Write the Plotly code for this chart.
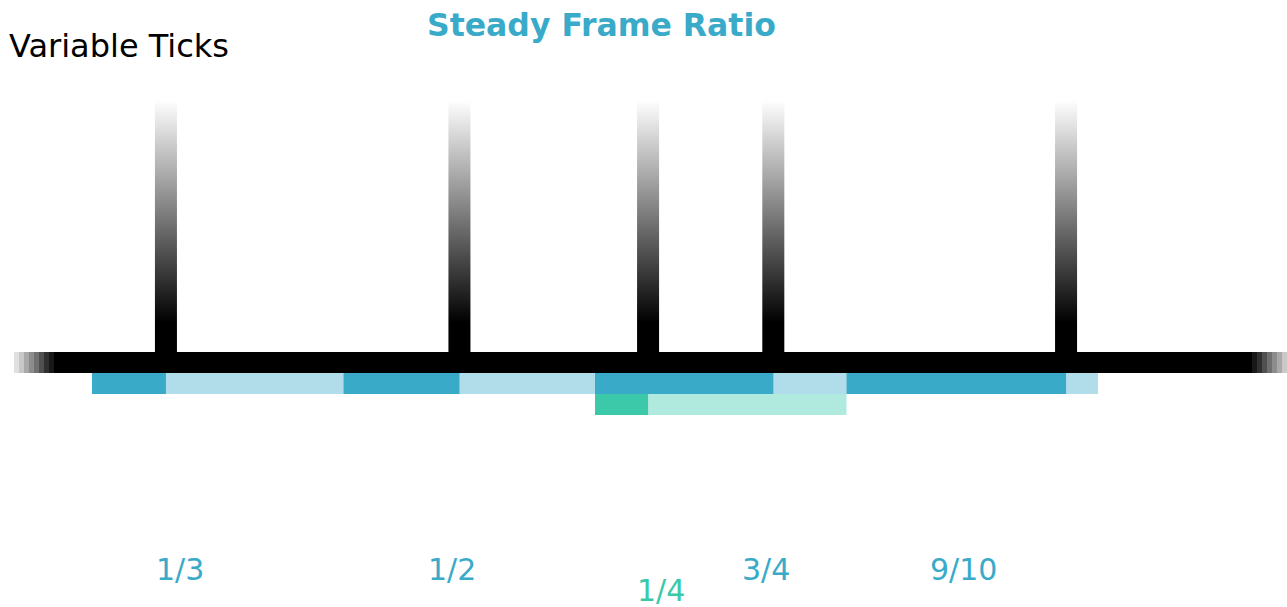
import numpy as np
import plotly.graph_objects as go

# ---- data -------------------------------------------------------------
frame_labels = ["1/3", "1/2", "3/4", "9/10"]
frame_start = [0, 1, 2, 3]                 # frame index of each ratio bar
frame_fill = [0.294, 0.461, 0.709, 0.873]  # filled share of each frame
steady_labels = ["1/4"]
steady_start = [2]
steady_fill = [0.211]
label_x = [0.35, 1.431, 2.680, 3.467]      # label anchor (frame units)
steady_label_x = [2.262]

# ---- style ------------------------------------------------------------
BLUE = "#3aaac9"
BLUE_L = "#b0dde9"
GREEN = "#3bc9aa"
GREEN_L = "#b0e9dd"
W, H = 1287, 607
PX0, UNIT = 92, 251.5          # pixel of frame 0, pixels per frame


def u(px):
    return (px - PX0) / UNIT


ROW_AXIS, ROW_BLUE, ROW_GREEN, ROW_H = 362.5, 383.5, 404.5, 21
TICK_TOP, TICK_BOTTOM, TICK_BLACK = 100, 352, 323
TICK_W = 22 / UNIT

fig = go.Figure()

# ---- baseline with stepped fading ends --------------------------------
left_greys = [0xe0, 0xc8, 0xa8, 0x8c, 0x70, 0x50, 0x30, 0x18]
right_greys = [0x18, 0x30, 0x50, 0x70, 0x8c, 0xa8, 0xc8]
seg_base, seg_len, seg_col = [], [], []
for i, g in enumerate(left_greys):
    seg_base.append(u(14 + 5 * i)); seg_len.append(5 / UNIT)
    seg_col.append(f"rgb({g},{g},{g})")
seg_base.append(u(54)); seg_len.append(u(1252) - u(54)); seg_col.append("black")
for i, g in enumerate(right_greys):
    seg_base.append(u(1252 + 5 * i)); seg_len.append(5 / UNIT)
    seg_col.append(f"rgb({g},{g},{g})")
fig.add_trace(go.Bar(orientation="h", y=[ROW_AXIS] * len(seg_len), x=seg_len,
                     base=seg_base, width=ROW_H, marker=dict(color=seg_col, line_width=0),
                     hoverinfo="skip", showlegend=False))

# ---- ratio bars --------------------------------------------------------
fig.add_trace(go.Bar(orientation="h", y=[ROW_BLUE] * len(frame_start), x=[1] * len(frame_start),
                     base=frame_start, width=ROW_H, marker=dict(color=BLUE_L, line_width=0),
                     showlegend=False, hoverinfo="skip"))
fig.add_trace(go.Bar(orientation="h", y=[ROW_BLUE] * len(frame_start), x=frame_fill,
                     base=frame_start, width=ROW_H, marker=dict(color=BLUE, line_width=0),
                     showlegend=False, text=frame_labels, hoverinfo="text", textposition="none"))
fig.add_trace(go.Bar(orientation="h", y=[ROW_GREEN] * len(steady_start), x=[1] * len(steady_start),
                     base=steady_start, width=ROW_H, marker=dict(color=GREEN_L, line_width=0),
                     showlegend=False, hoverinfo="skip"))
fig.add_trace(go.Bar(orientation="h", y=[ROW_GREEN] * len(steady_start), x=steady_fill,
                     base=steady_start, width=ROW_H, marker=dict(color=GREEN, line_width=0),
                     showlegend=False, text=steady_labels, hoverinfo="text", textposition="none"))

# ---- gradient ticks at the end of each filled part ---------------------
tick_pos = [s + f for s, f in zip(frame_start, frame_fill)] + \
           [s + f for s, f in zip(steady_start, steady_fill)]
y_edges = np.arange(TICK_TOP, TICK_BOTTOM + 1, 2)
y_mid = (y_edges[:-1] + y_edges[1:]) / 2
shade = np.clip((y_mid - TICK_TOP) / (TICK_BLACK - TICK_TOP), 0, 1)
for t in tick_pos:
    fig.add_trace(go.Heatmap(x=[t - TICK_W / 2, t + TICK_W / 2], y=y_edges,
                             z=[[v] for v in shade], zmin=0, zmax=1,
                             colorscale=[[0, "rgb(255,255,255)"], [1, "rgb(0,0,0)"]],
                             showscale=False, hoverinfo="skip"))

# ---- text --------------------------------------------------------------
ann = [
    dict(text="Variable Ticks", xref="paper", x=7 / W, xanchor="left", yref="y", y=46,
         yanchor="middle", showarrow=False,
         font=dict(family="DejaVu Sans", size=32, color="black")),
    dict(text="<b>Steady Frame Ratio</b>", xref="paper", x=601 / W, xanchor="center",
         yref="y", y=25, yanchor="middle", showarrow=False,
         font=dict(family="DejaVu Sans", size=31.5, color=BLUE)),
]
for lab, x in zip(frame_labels, label_x):
    ann.append(dict(text=lab, x=x, y=569, xref="x", yref="y", xanchor="center",
                    yanchor="middle", showarrow=False,
                    font=dict(family="DejaVu Sans", size=30, color=BLUE)))
for lab, x in zip(steady_labels, steady_label_x):
    ann.append(dict(text=lab, x=x, y=590, xref="x", yref="y", xanchor="center",
                    yanchor="middle", showarrow=False,
                    font=dict(family="DejaVu Sans", size=30, color=GREEN)))

fig.update_layout(
    width=W, height=H, autosize=False,
    margin=dict(l=0, r=0, t=0, b=0),
    paper_bgcolor="white", plot_bgcolor="white",
    barmode="overlay",
    xaxis=dict(range=[u(0), u(W)], visible=False, fixedrange=True),
    yaxis=dict(range=[H, 0], visible=False, fixedrange=True),
    annotations=ann,
    showlegend=False,
)

fig.write_html("out.html", config={"displayModeBar": False},
               post_script="document.body.style.margin='0px';"
                           "document.body.style.overflow='hidden';")
